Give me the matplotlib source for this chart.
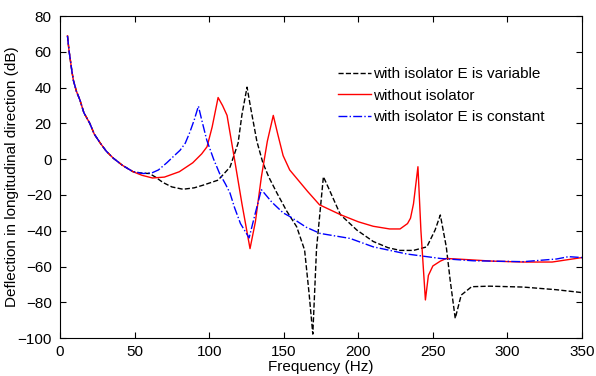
import matplotlib.pyplot as plt

plt.rcParams['font.family'] = ['Liberation Sans', 'DejaVu Sans']

# without isolator (red)
f_red = [5, 6, 7, 8, 9, 11, 13.4, 16, 20, 23, 27, 31, 35.7, 42, 49, 55, 62, 70, 80, 89, 95,
         98.6, 102, 106, 109, 112, 117, 122, 127.4, 131, 135, 139, 143, 146, 149.6,
         154, 160, 166, 174, 188, 200, 210, 221, 228, 233, 235, 237, 240, 242, 245,
         247, 250, 255, 259, 270, 290, 310, 330, 350]
db_red = [69, 61, 55, 49, 44, 38, 33, 26, 20, 14, 9, 4.5, 0.6, -3.5, -7, -9, -10.5, -10, -7,
          -2, 3, 7, 18, 34.5, 30, 24.5, 0, -25, -50, -35, -10, 10, 24.5, 14, 2,
          -6, -12, -18, -25.5, -31, -35, -37.5, -39, -39, -36, -33, -25, -4.2, -40, -78.7,
          -65, -59.7, -57, -55.5, -56, -57, -57.5, -57.5, -55]

# with isolator E is variable (black)
f_blk = [5, 6, 7, 8, 9, 11, 13.4, 16, 20, 23, 27, 31, 35.7, 42, 49, 55, 60, 64, 69, 75,
         82.5, 90, 96, 106, 114, 119.4, 122, 125.4, 128, 132, 136, 140, 145.5, 152,
         158.7, 164, 167, 169.5, 172, 176.6, 180, 188, 199, 210, 220, 228, 237, 246,
         251.5, 255, 259, 261.6, 265, 269, 276, 288, 310.6, 333, 350]
db_blk = [69, 61, 55, 49, 44, 38, 33, 26, 20, 14, 9, 4.5, 0.6, -3.5, -7, -7.8, -8, -10,
          -13, -15.5, -16.8, -16, -14.5, -11.7, -4.4, 9, 25, 40.3, 28, 10, -2, -10,
          -19, -29, -37.8, -50.8, -75, -97.8, -50, -9.8, -16, -31, -39.6, -46, -49.5,
          -51, -51, -49, -39.6, -31.2, -49, -67.6, -89, -76, -71.3, -71, -71.5, -73, -74.6]

# with isolator E is constant (blue)
f_blu = [5, 6, 7, 8, 9, 11, 13.4, 16, 20, 23, 27, 31, 35.7, 42, 49, 56, 62, 66, 71.6,
         76, 80.5, 84, 87, 90, 92.8, 95, 98.4, 103, 107, 111, 114, 117, 121, 126.8,
         131, 135, 142, 149.6, 154, 165, 174.4, 194.5, 210, 232.5, 255, 277, 310.6,
         333, 341, 350]
db_blu = [69, 61, 55, 49, 44, 38, 33, 26, 20, 14, 9, 4.5, 0.6, -3.5, -7, -8, -7.5, -6,
          -2, 1.5, 5, 9, 15, 22, 29.7, 22, 10.7, 0, -8, -14, -19, -27, -36, -44,
          -30, -17, -24, -30, -32, -38, -41.5, -44.3, -49, -53, -55.5, -56.8, -57.3,
          -55.8, -54.5, -55]

fig = plt.figure(figsize=(5.96, 3.76), dpi=100)
ax = fig.add_axes([0.1007, 0.101, 0.8758, 0.856])

ax.plot(f_blk, db_blk, color='black', linestyle='--', linewidth=1.0,
        label='with isolator E is variable')
ax.plot(f_red, db_red, color='red', linestyle='-', linewidth=1.0,
        label='without isolator')
ax.plot(f_blu, db_blu, color='blue', linestyle='-.', linewidth=1.0,
        label='with isolator E is constant')

ax.set_xlim(0, 350)
ax.set_ylim(-100, 80)
ax.set_xticks(range(0, 351, 50))
ax.set_yticks(range(-100, 81, 20))
ax.tick_params(direction='in', top=True, right=True, labelsize=11, length=4)
ax.tick_params(axis='y', pad=6)
ax.tick_params(axis='x', pad=5)
ax.set_xlabel('Frequency (Hz)', fontsize=11, labelpad=1)
ax.set_ylabel('Deflection in longitudinal direction (dB)', fontsize=11, labelpad=-1)

ax.legend(loc='upper left', bbox_to_anchor=(0.52, 0.86), frameon=False,
          fontsize=11, handlelength=2.2, handletextpad=0.15, labelspacing=0.48,
          borderaxespad=0)

fig.savefig('out.png', dpi=100)
